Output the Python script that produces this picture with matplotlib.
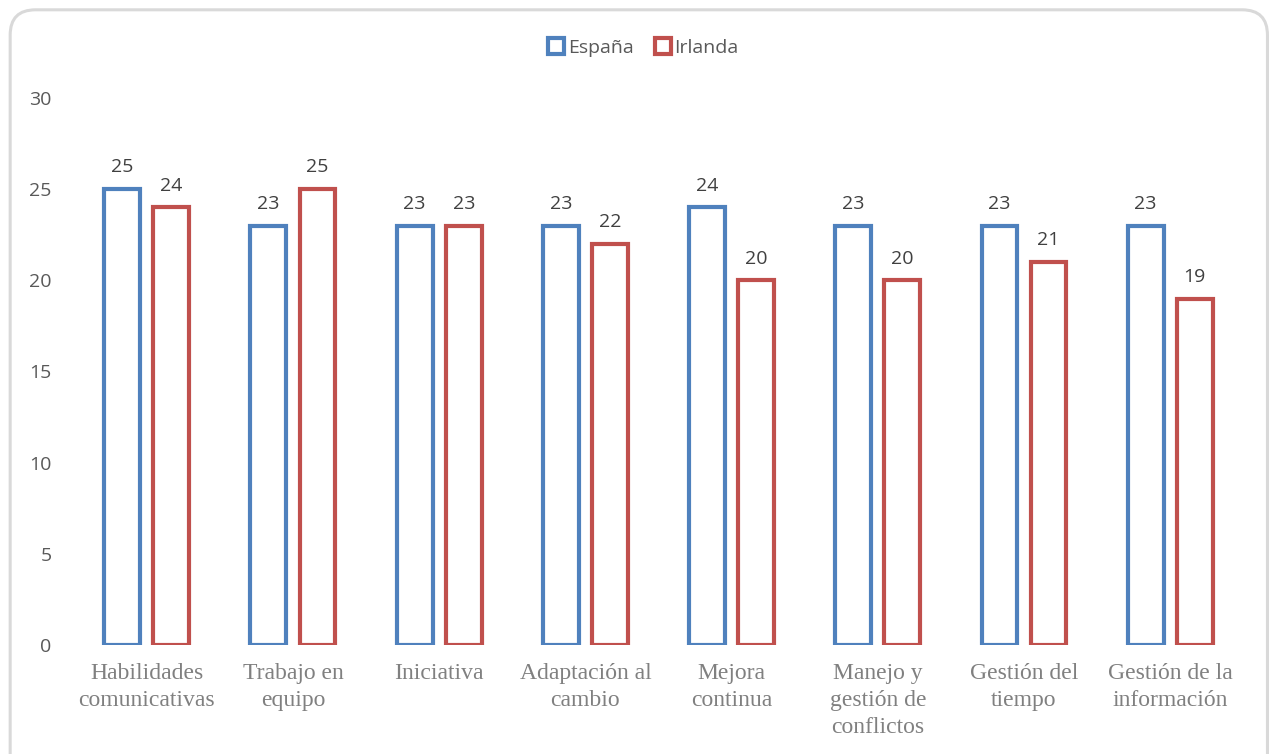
import matplotlib.pyplot as plt
import numpy as np
from matplotlib.patches import FancyBboxPatch
from matplotlib.lines import Line2D

categories = ["Habilidades\ncomunicativas", "Trabajo en\nequipo", "Iniciativa",
              "Adaptación al\ncambio", "Mejora\ncontinua", "Manejo y\ngestión de\nconflictos",
              "Gestión del\ntiempo", "Gestión de la\ninformación"]
espana = [25, 23, 23, 23, 24, 23, 23, 23]
irlanda = [24, 25, 23, 22, 20, 20, 21, 19]

blue = "#4F81BD"
red = "#C0504D"

fig = plt.figure(figsize=(12.7, 7.54), dpi=100)
ax = fig.add_axes([0.058, 0.1446, 0.921, 0.7254])

# rounded frame around the chart
frame = FancyBboxPatch((0.008, -0.05), 0.99, 1.037, boxstyle="round,pad=0,rounding_size=0.02",
                       transform=fig.transFigure, fill=False, edgecolor="#D9D9D9",
                       linewidth=2.2, mutation_aspect=1.68)
fig.patches.append(frame)

x = np.arange(len(categories))
w = 0.245
off = 0.168
b1 = ax.bar(x - off, espana, w, facecolor="white", edgecolor=blue, linewidth=3)
b2 = ax.bar(x + off, irlanda, w, facecolor="white", edgecolor=red, linewidth=3)

for bars, vals in ((b1, espana), (b2, irlanda)):
    for b, v in zip(bars, vals):
        ax.text(b.get_x() + b.get_width() / 2, v + 0.7, str(v), ha="center", va="bottom",
                fontsize=14, color="#404040", family="Open Sans")

ax.set_xlim(-0.5, len(categories) - 0.5)
ax.set_ylim(0, 30)
ax.set_yticks(range(0, 31, 5))
for s in ax.spines.values():
    s.set_visible(False)
ax.tick_params(length=0)
ax.tick_params(axis="y", pad=16)
ax.set_xticks(x)
ax.set_xticklabels(categories, family="Liberation Serif", fontsize=17, color="#808080",
                   linespacing=1.38)
ax.tick_params(axis="x", pad=13)
for lab in ax.get_yticklabels():
    lab.set_family("Open Sans")
    lab.set_fontsize(14)
    lab.set_color("#595959")
    lab.set_horizontalalignment("right")

handles = [Line2D([], [], marker="s", linestyle="", markersize=11, markerfacecolor="white",
                  markeredgecolor=blue, markeredgewidth=3),
           Line2D([], [], marker="s", linestyle="", markersize=11, markerfacecolor="white",
                  markeredgecolor=red, markeredgewidth=3)]
leg = fig.legend(handles, ["España", "Irlanda"], loc="center", bbox_to_anchor=(0.506, 0.937),
                 ncol=2, frameon=False, handletextpad=0.1, columnspacing=1.0,
                 prop={"family": "Open Sans", "size": 14}, handlelength=1.0)
for t in leg.get_texts():
    t.set_color("#595959")

fig.savefig("out.png", dpi=100)
